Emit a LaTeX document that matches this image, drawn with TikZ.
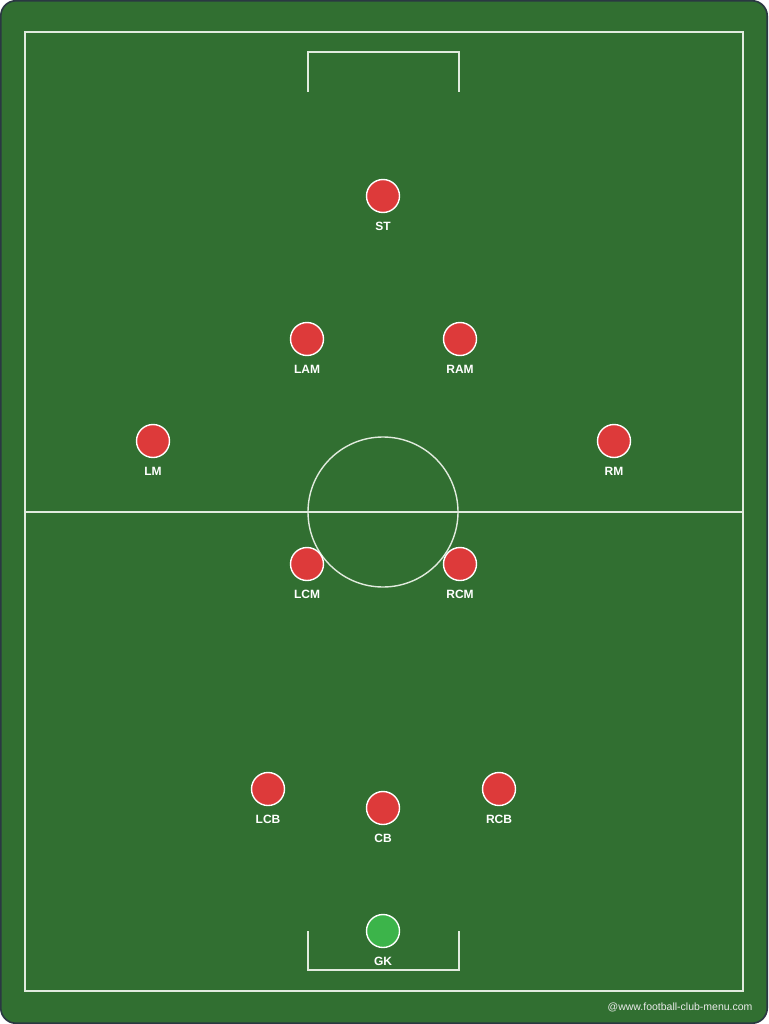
\documentclass[tikz,border=0pt]{standalone}
\usepackage{fontspec}
\setmainfont{Liberation Sans}
\usetikzlibrary{positioning}
\definecolor{pitchGreen}{RGB}{49, 111, 49}
\definecolor{pitchEdge}{RGB}{42, 56, 66}
\definecolor{pitchLine}{RGB}{225, 235, 222}
\definecolor{playerRed}{RGB}{221, 58, 58}
\definecolor{keeperGreen}{RGB}{60, 180, 74}

\begin{document}
\begin{tikzpicture}[
        x=1pt, y=-1pt,
        player/.style={circle, draw=white, line width=1.4pt, fill=playerRed, minimum size=33pt, inner sep=0pt},
        keeper/.style={player, fill=keeperGreen},
        tag/.style={font=\bfseries\fontsize{12}{12}\selectfont, text=white, inner sep=0pt, below=9pt of #1},
        line/.style={draw=pitchLine, line width=1.4pt}
    ]
        % Pitch background
        \useasboundingbox (0,0) rectangle (768,1024);
        \draw[pitchEdge, fill=pitchGreen, line width=1.6pt, rounded corners=15pt] (0.8,0.8) rectangle (767.2,1023.2);

        % Markings
        \draw[line] (25,32) rectangle (743,991);
        \draw[line] (25,512) -- (743,512);
        \draw[line] (383,512) circle (75);
        \draw[line] (308,92) -- (308,52) -- (459,52) -- (459,92);
        \draw[line] (308,931) -- (308,970) -- (459,970) -- (459,931);

        % Attack
        \node[player] (st) at (383,196) {};
        \node[player] (lam) at (307,339) {};
        \node[player] (ram) at (460,339) {};
        \node[player] (lm) at (153,441) {};
        \node[player] (rm) at (614,441) {};

        % Midfield
        \node[player] (lcm) at (307,564) {};
        \node[player] (rcm) at (460,564) {};

        % Defence
        \node[player] (lcb) at (268,789) {};
        \node[player] (cb) at (383,808) {};
        \node[player] (rcb) at (499,789) {};
        \node[keeper] (gk) at (383,931) {};

        % Labels
        \node[tag=st] {ST};
        \node[tag=lam] {LAM};
        \node[tag=ram] {RAM};
        \node[tag=lm] {LM};
        \node[tag=rm] {RM};
        \node[tag=lcm] {LCM};
        \node[tag=rcm] {RCM};
        \node[tag=lcb] {LCB};
        \node[tag=cb] {CB};
        \node[tag=rcb] {RCB};
        \node[tag=gk] {GK};

        \node[font=\fontsize{10.5}{11}\selectfont, text=white!92!black, anchor=east] (credit) at (756,1007) {@www.football-club-menu.com};
    \end{tikzpicture}
\end{document}
